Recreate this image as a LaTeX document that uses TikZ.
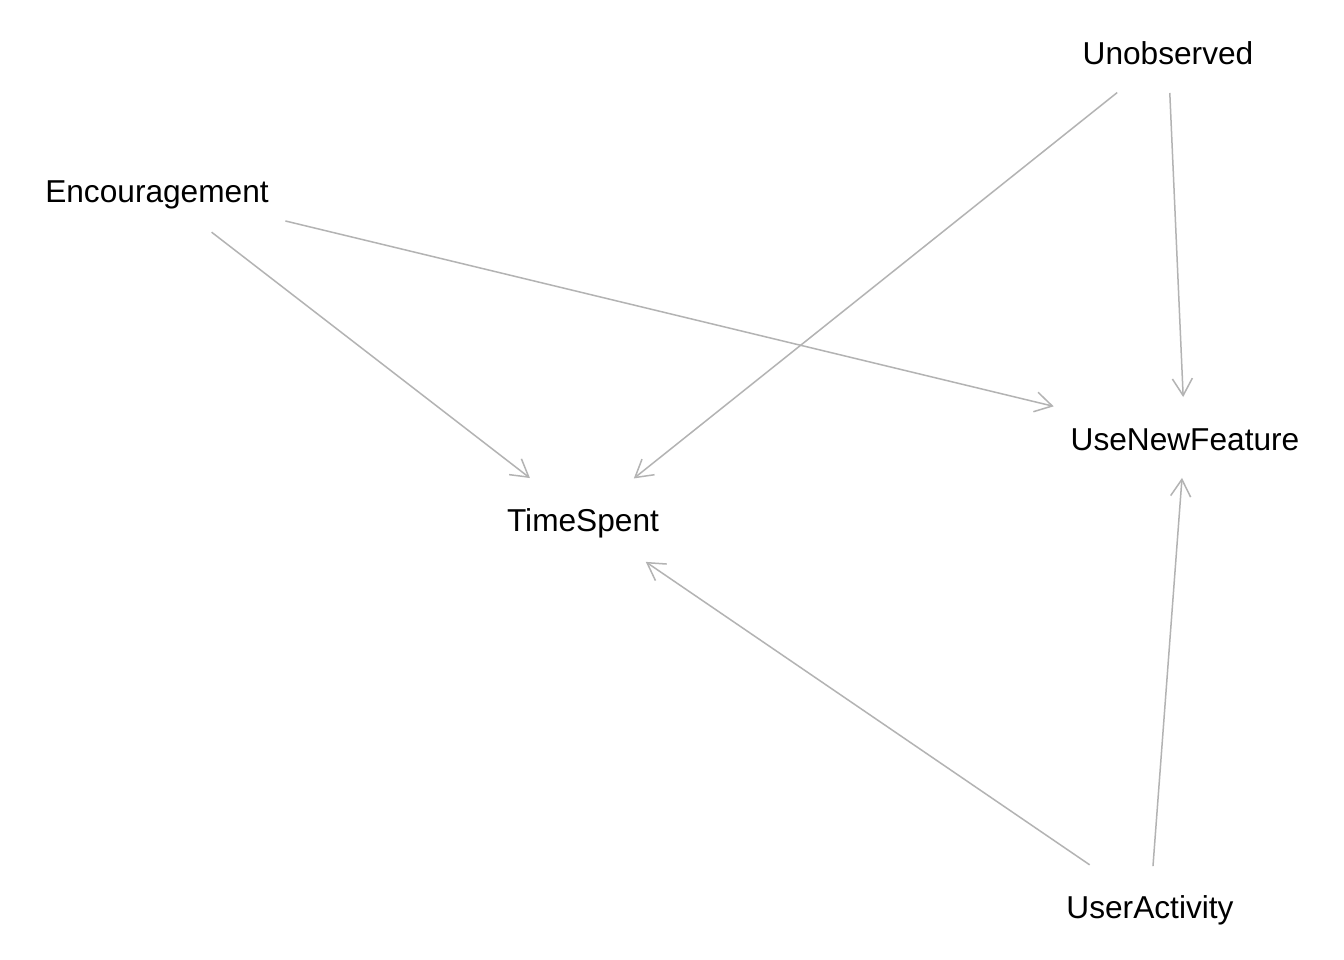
\documentclass[tikz,border=0pt]{standalone}
\usepackage{fontspec}
\setmainfont{Liberation Sans}
\usetikzlibrary{arrows.meta}
\definecolor{edgegray}{HTML}{B3B3B3}
\begin{document}
\begin{tikzpicture}[x=0.01cm,y=-0.01cm,
  lbl/.style={inner sep=0pt,text height=0.72em,text depth=0pt,font=\fontsize{9pt}{10pt}\selectfont},
  edge/.style={draw=edgegray,line width=0.015cm,
    -{Straight Barb[length=0.17cm,width=0.2cm]}}]
\useasboundingbox[fill=white] (0,0) rectangle (1344,960);
\node[lbl] (U) at (1168,52) {Unobserved};
\node[lbl] (E) at (157,190) {Encouragement};
\node[lbl] (N) at (1185,438) {UseNewFeature};
\node[lbl] (T) at (583,519) {TimeSpent};
\node[lbl] (A) at (1150,906) {UserActivity};
\draw[edge,shorten <=0.69cm,shorten >=0.67cm] (E.center) -- (T.center);
\draw[edge,shorten <=1.32cm,shorten >=1.35cm] (E.center) -- (N.center);
\draw[edge,shorten <=0.65cm,shorten >=0.65cm] (U.center) -- (T.center);
\draw[edge,shorten <=0.41cm,shorten >=0.41cm] (U.center) -- (N.center);
\draw[edge,shorten <=0.73cm,shorten >=0.76cm] (A.center) -- (T.center);
\draw[edge,shorten <=0.40cm,shorten >=0.40cm] (A.center) -- (N.center);
\end{tikzpicture}
\end{document}
